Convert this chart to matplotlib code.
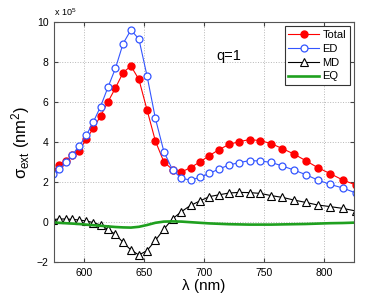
import numpy as np
import matplotlib
matplotlib.use("Agg")
import matplotlib.pyplot as plt

plt.rcParams['font.family'] = ['Liberation Sans', 'DejaVu Sans']
plt.rcParams['mathtext.fontset'] = 'custom'
plt.rcParams['mathtext.rm'] = 'Liberation Sans'
plt.rcParams['mathtext.it'] = 'Liberation Sans'

# photon energies (eV) of the computed points, converted to wavelength (nm)
energy = np.round(np.arange(2.16, 1.49, -0.02), 2)
wavelength = 1239.84 / energy

# extinction cross sections, in units of 1e5 nm^2
total = [2.55, 2.85, 3.05, 3.35, 3.57, 4.15, 4.68, 5.30, 6.00, 6.70, 7.47, 7.80,
         7.13, 5.60, 4.05, 3.00, 2.62, 2.50, 2.72, 3.00, 3.32, 3.62, 3.88, 4.02,
         4.12, 4.07, 3.92, 3.67, 3.40, 3.07, 2.72, 2.42, 2.10, 1.85]
ed = [2.40, 2.63, 2.98, 3.37, 3.80, 4.33, 5.00, 5.77, 6.73, 7.68, 8.92, 9.60,
      9.15, 7.30, 5.18, 3.52, 2.60, 2.18, 2.10, 2.23, 2.43, 2.65, 2.85, 2.97,
      3.07, 3.05, 2.98, 2.80, 2.60, 2.37, 2.10, 1.88, 1.70, 1.45]
md = [0.12, 0.15, 0.15, 0.13, 0.10, 0.05, -0.03, -0.15, -0.37, -0.62, -1.02, -1.40,
      -1.65, -1.43, -0.92, -0.36, 0.16, 0.52, 0.83, 1.05, 1.27, 1.36, 1.45, 1.48,
      1.47, 1.43, 1.32, 1.23, 1.10, 0.98, 0.85, 0.77, 0.68, 0.55]
eq = [-0.02, -0.04, -0.06, -0.08, -0.10, -0.13, -0.16, -0.19, -0.22, -0.25, -0.27, -0.28,
      -0.24, -0.15, -0.04, 0.02, 0.03, 0.02, -0.01, -0.04, -0.07, -0.09, -0.11, -0.12,
      -0.13, -0.13, -0.13, -0.12, -0.11, -0.10, -0.08, -0.06, -0.05, -0.03]

xticks = [600, 650, 700, 750, 800]
yticks = [-2, 0, 2, 4, 6, 8, 10]

fig = plt.figure(figsize=(3.91, 2.99), dpi=100)
ax = fig.add_axes([54 / 391, 37 / 299, 300 / 391, 240 / 299])

ax.plot(wavelength, total, '-o', color='#ff0000', mfc='#ff0000', mec='#ff0000',
        ms=5, lw=0.8, label='Total')
ax.plot(wavelength, ed, '-o', color='#3355ff', mfc='white', mec='#3355ff',
        ms=5, mew=0.9, lw=0.8, label='ED')
ax.plot(wavelength, md, '-^', color='black', mfc='white', mec='black',
        ms=5.5, mew=0.8, lw=0.8, label='MD')
ax.plot(wavelength, eq, '-', color='#1fa01f', lw=1.9, label='EQ')

ax.set_xlim(575, 825)
ax.set_ylim(-2, 10)
ax.set_xticks(xticks)
ax.set_yticks(yticks)
ax.grid(True, linestyle=':', color='#b8b8b8', linewidth=0.7)
ax.tick_params(direction='in', top=True, right=True, labelsize=7.5, length=3,
               color='#444444', pad=4)
for s in ax.spines.values():
    s.set_color('#555555')
    s.set_linewidth(0.8)

ax.set_xlabel('λ (nm)', fontsize=11, labelpad=1)
ax.set_ylabel(r'$\mathrm{σ}_{\rm ext}$ (nm$^2$)', fontsize=12, labelpad=3)
ax.text(0.0, 1.015, r'x 10$^5$', transform=ax.transAxes, fontsize=6.5,
        ha='left', va='bottom')
ax.text(0.54, 0.84, 'q=1', transform=ax.transAxes, fontsize=10.5)

leg = ax.legend(loc='upper right', fontsize=8, frameon=True, fancybox=False,
                edgecolor='#333333', framealpha=1, handlelength=2.8,
                handletextpad=0.3, borderpad=0.3, labelspacing=0.35,
                borderaxespad=0.4)
leg.get_frame().set_linewidth(0.8)

fig.savefig('out.png', dpi=100)
